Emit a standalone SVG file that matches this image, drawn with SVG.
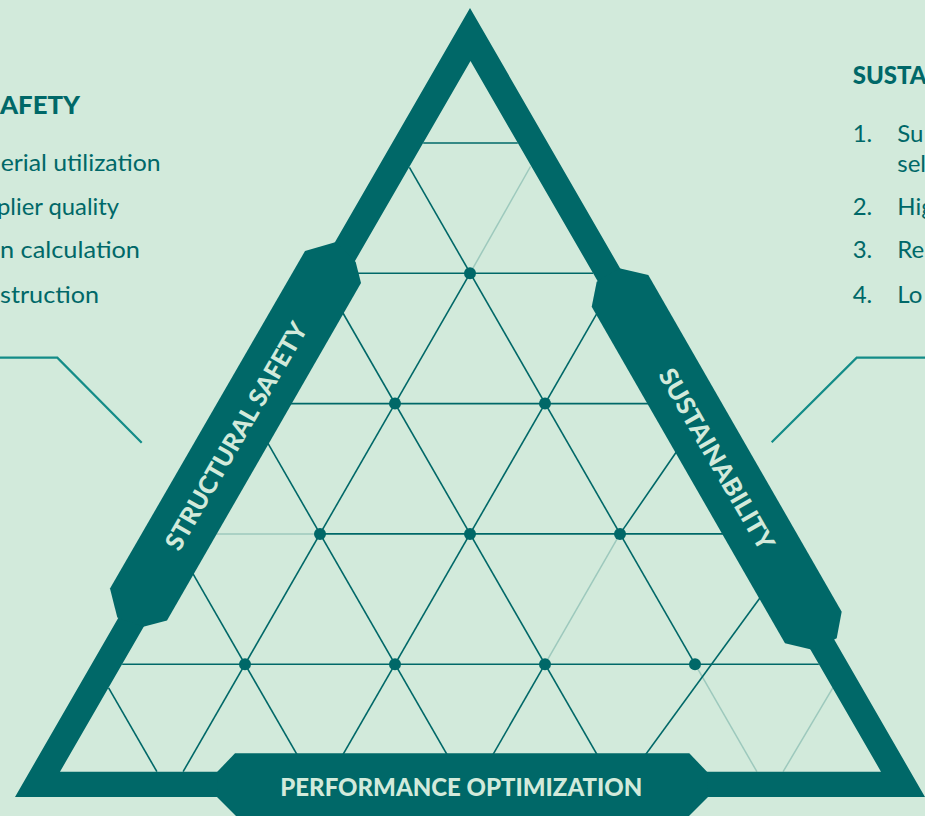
<svg xmlns="http://www.w3.org/2000/svg" width="925" height="816" viewBox="0 0 925 816">
<style>
.g{stroke:#006868;stroke-width:1.6;fill:none}
.l{stroke:#9dc9bd;stroke-width:1.5;fill:none}
.band{fill:#006868}
.bt{font-family:Lato,"Open Sans",sans-serif;font-weight:900;font-size:25px;fill:#d2eadb}
.tt{font-family:Lato,"Open Sans",sans-serif;font-weight:900;font-size:24px;fill:#006868}
.bd{font-family:Lato,"Open Sans",sans-serif;font-weight:400;font-size:24px;fill:#006868}
.cl{stroke:#138c88;stroke-width:2.2;fill:none}
</style>
<rect width="925" height="816" fill="#d2eadb"/>
<g id="grid">
  <line class="g" x1="423.2" y1="143" x2="517.8" y2="143"/>
  <line class="g" x1="347.9" y1="273.3" x2="593.1" y2="273.3"/>
  <line class="g" x1="272.7" y1="403.6" x2="668.3" y2="403.6"/>
  <line class="l" x1="197.4" y1="533.9" x2="320" y2="533.9"/>
  <line class="g" x1="320" y1="533.9" x2="743.6" y2="533.9"/>
  <line class="g" x1="122.2" y1="664.2" x2="818.8" y2="664.2"/>
  <line class="g" x1="409.4" y1="167.4" x2="695" y2="664.2"/>
  <line class="l" x1="695" y1="664.2" x2="756.9" y2="771.7"/>
  <line class="g" x1="334" y1="297.5" x2="606.9" y2="771.7"/>
  <line class="g" x1="258.9" y1="427.6" x2="456.9" y2="771.7"/>
  <line class="g" x1="183.7" y1="557.7" x2="306.9" y2="771.7"/>
  <line class="g" x1="108.6" y1="687.8" x2="156.9" y2="771.7"/>
  <line class="l" x1="530.5" y1="166.5" x2="470" y2="273.3"/>
  <line class="g" x1="470" y1="273.3" x2="183.1" y2="771.7"/>
  <line class="g" x1="606.6" y1="296.6" x2="333.1" y2="771.7"/>
  <line class="g" x1="693.7" y1="426.7" x2="620" y2="533.9"/>
  <line class="l" x1="620" y1="533.9" x2="545" y2="664.2"/>
  <line class="g" x1="545" y1="664.2" x2="483.1" y2="771.7"/>
  <line class="g" x1="790" y1="556.8" x2="633.1" y2="771.7"/>
  <line class="l" x1="833.4" y1="686.9" x2="783.1" y2="771.7"/>
  <g fill="#006868">
    <circle cx="470" cy="273.3" r="6"/>
    <circle cx="395" cy="403.6" r="6"/>
    <circle cx="545" cy="403.6" r="6"/>
    <circle cx="320" cy="533.9" r="6"/>
    <circle cx="470" cy="533.9" r="6"/>
    <circle cx="620" cy="533.9" r="6"/>
    <circle cx="245" cy="664.2" r="6"/>
    <circle cx="395" cy="664.2" r="6"/>
    <circle cx="545" cy="664.2" r="6"/>
    <circle cx="695" cy="664.2" r="6"/>
  </g>
</g>
<g id="triangle">
  <path class="band" fill-rule="evenodd" d="M470,8 L925,797 L15,797 Z M470.5,61 L60,771.7 L881,771.7 Z"/>
</g>
<g id="structural-safety-banner">
  <polygon class="band" points="336,242 305,251 110,588.5 117.3,617.6 143.3,626.7 167,620.5 361,283 355.7,262"/>
  <text class="bt" transform="translate(236,436) rotate(-60)" x="0" y="9" text-anchor="middle" textLength="258" lengthAdjust="spacingAndGlyphs">STRUCTURAL SAFETY</text>
</g>
<g id="sustainability-banner">
  <polygon class="band" points="619.3,268.3 648.3,275 841.7,611.7 836.7,638.3 813.3,650 785,643.3 591.7,306.7 596.7,281.7"/>
  <text class="bt" transform="translate(716.7,459) rotate(60)" x="0" y="9" text-anchor="middle" textLength="205" lengthAdjust="spacingAndGlyphs">SUSTAINABILITY</text>
</g>
<g id="performance-banner">
  <polygon class="band" points="217.3,771.7 235,753.3 689.3,753.3 707,771.7 708,797 689,816 236,816 217,797"/>
  <text class="bt" x="461.3" y="796" text-anchor="middle" textLength="362" lengthAdjust="spacingAndGlyphs">PERFORMANCE OPTIMIZATION</text>
</g>
<g id="connectors">
  <polyline class="cl" points="0,357.7 57.3,357.7 141.7,442.7"/>
  <polyline class="cl" points="925,357.7 856.7,357.7 771.7,442.3"/>
</g>
<g id="left-list">
  <text class="tt" x="80" y="114" text-anchor="end" textLength="80" lengthAdjust="spacingAndGlyphs">AFETY</text>
  <text class="bd" x="160.7" y="171" text-anchor="end" textLength="160" lengthAdjust="spacingAndGlyphs">erial utilization</text>
  <text class="bd" x="119" y="215" text-anchor="end" textLength="122" lengthAdjust="spacingAndGlyphs">plier quality</text>
  <text class="bd" x="140" y="258" text-anchor="end" textLength="140" lengthAdjust="spacingAndGlyphs">n calculation</text>
  <text class="bd" x="99" y="303" text-anchor="end" textLength="99" lengthAdjust="spacingAndGlyphs">struction</text>
</g>
<g id="right-list">
  <text class="tt" x="852.7" y="84">SUSTA</text>
  <text class="bd" x="852.7" y="142">1.</text>
  <text class="bd" x="897.3" y="142">Su</text>
  <text class="bd" x="897.3" y="172">sel</text>
  <text class="bd" x="852.7" y="215">2.</text>
  <text class="bd" x="897.3" y="215">Hig</text>
  <text class="bd" x="852.7" y="258">3.</text>
  <text class="bd" x="897.3" y="258">Re</text>
  <text class="bd" x="852.7" y="303">4.</text>
  <text class="bd" x="897.3" y="303">Lo</text>
</g>
</svg>
